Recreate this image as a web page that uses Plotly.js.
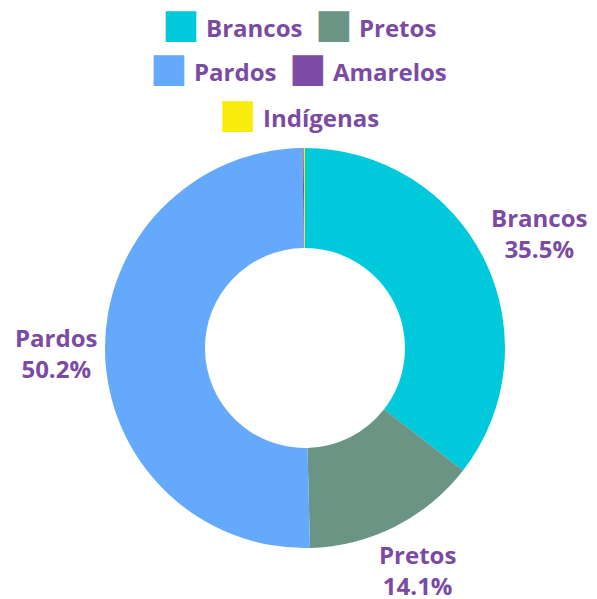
<!DOCTYPE html>
<html>
<head>
<meta charset="utf-8">
<script src="https://cdn.plot.ly/plotly-3.0.1.min.js"></script>
<style>
  html, body { margin: 0; padding: 0; background: #fff; }
  #chart { width: 597px; height: 599px; }
</style>
</head>
<body>
<div id="chart"></div>
<script>
const groups = ['Brancos', 'Pretos', 'Pardos', 'Amarelos', 'Indígenas'];
const shares = [35.5, 14.1, 50.2, 0.1, 0.1];
const sliceColors = ['#00c9dc', '#6a9484', '#64a9fb', '#7c4ca6', '#f9ec0c'];
const legendRows = [[0, 1], [2, 3], [4]];

const W = 597, H = 599;
const purple = '#7b4aa3';
const font = "'Open Sans', 'DejaVu Sans', sans-serif";

// pie box in pixels
const cx = 305, cy = 348, radius = 200;
// labels sit just outside the ring: box edge ~9px past the rim
const labelGap = 209, charW = 13, boxH = 50;

const data = [{
  type: 'pie',
  labels: groups,
  values: shares,
  sort: false,
  direction: 'clockwise',
  rotation: 0,
  hole: 0.5,
  marker: { colors: sliceColors, line: { width: 0 } },
  textinfo: 'none',
  domain: { x: [(cx - radius) / W, (cx + radius) / W], y: [(H - cy - radius) / H, (H - cy + radius) / H] },
  hoverinfo: 'label+percent',
  showlegend: false,
}];

// slice labels outside the ring, at each slice's mid angle (tiny slices skipped)
const total = shares.reduce((a, b) => a + b, 0);
let cum = 0;
const sliceLabels = [];
shares.forEach((v, i) => {
  const mid = (cum + v / 2) / total * 2 * Math.PI;
  cum += v;
  if (v / total < 0.01) return;
  const s = Math.sin(mid), c = Math.cos(mid);
  const boxW = groups[i].length * charW;
  const r = labelGap + boxW / 2 * Math.abs(s) + boxH / 2 * Math.abs(c);
  sliceLabels.push({
    xref: 'paper', yref: 'paper',
    x: (cx + r * s) / W,
    y: 1 - (cy - r * c) / H,
    xanchor: 'center', yanchor: 'middle',
    showarrow: false,
    font: { color: purple, size: 24, family: font, weight: 'bold' },
    text: `${groups[i]}<br>${(v / total * 100).toFixed(1)}%`,
  });
});

// legend drawn as centred rows, like the original
const rowY = [0.961, 0.888, 0.811];
const legendItems = legendRows.map((row, r) => ({
  xref: 'paper', yref: 'paper',
  x: 0.5, y: rowY[r],
  xanchor: 'center', yanchor: 'middle',
  showarrow: false,
  font: { color: purple, size: 24, family: font, weight: 'bold' },
  text: row.map(i =>
    `<span style="color:${sliceColors[i]};font-size:40px;font-family:'DejaVu Sans'">■</span> ${groups[i]}`
  ).join('&nbsp;&nbsp;'),
}));

const layout = {
  width: W,
  height: H,
  margin: { l: 0, r: 0, t: 0, b: 0, autoexpand: false },
  paper_bgcolor: '#fff',
  showlegend: false,
  annotations: legendItems.concat(sliceLabels),
};

Plotly.newPlot('chart', data, layout, { displayModeBar: false });
</script>
</body>
</html>
